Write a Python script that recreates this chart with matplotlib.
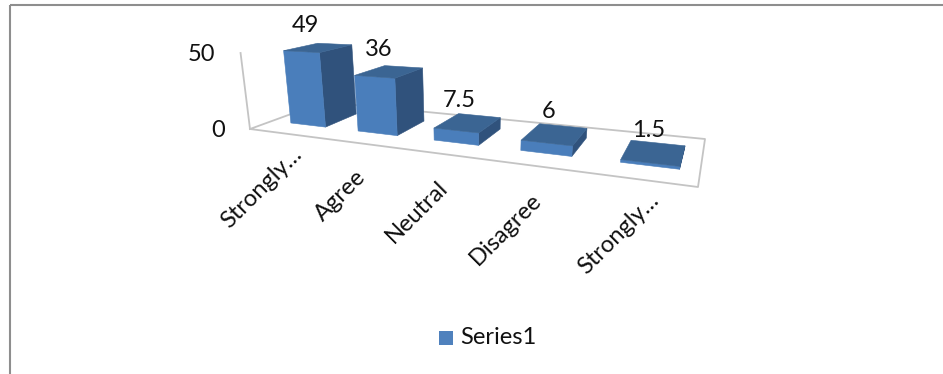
#!/usr/bin/env python3
"""Perspective column chart of survey responses, drawn as projected polygons."""
import matplotlib
matplotlib.use("Agg")
import matplotlib.pyplot as plt
import numpy as np
from matplotlib.patches import Polygon, Rectangle

categories = ["Strongly…", "Agree", "Neutral", "Disagree", "Strongly…"]
values = [49, 36, 7.5, 6, 1.5]
value_labels = ["49", "36", "7.5", "6", "1.5"]
y_ticks = [0, 50]
series_name = "Series1"

W, H = 943, 374
FRONT = "#4a7ebb"
SIDE = "#30527c"
TOP = "#3b6593"
GRID = "#c4c4c4"
FRAME = "#8e8e8e"
FONT = "Lato"
FS = 17


def floor_matrix(pts):
    # homography from the unit floor square to canvas pixels
    (x0, y0), (x1, y1), (x2, y2), (x3, y3) = pts
    a = np.array([[x1 - x2, x3 - x2], [y1 - y2, y3 - y2]], float)
    b = np.array([x0 - x1 + x2 - x3, y0 - y1 + y2 - y3], float)
    g, h = np.linalg.solve(a, b)
    return np.array([
        [x1 - x0 + g * x1, x3 - x0 + h * x3, x0],
        [y1 - y0 + g * y1, y3 - y0 + h * y3, y0],
        [g, h, 1.0],
    ])


M = floor_matrix([(250, 129), (698, 187), (705, 139), (324, 102)])

# vertical direction converges on a point far below the floor
vp = np.array([470.0, 1900.0, 1.0])
# scale chosen so z=50 lands at the top of the value axis
lam = (53 - 129) / (50 * (vp[1] - 53))
cam = np.column_stack([M[:, 0], M[:, 1], lam * vp, M[:, 2]])


def project(u, w, z=0.0):
    p = cam @ np.array([u, w, z, 1.0])
    return p[0] / p[2], p[1] / p[2]


fig = plt.figure(figsize=(W / 100, H / 100), dpi=100)
ax = fig.add_axes([0, 0, 1, 1])
ax.set_xlim(0, W)
ax.set_ylim(H, 0)
ax.axis("off")

# outer frame: top and left edges only
ax.plot([10, W], [5, 5], color=FRAME, lw=1.5, solid_capstyle="butt")
ax.plot([10, 10], [5, H], color=FRAME, lw=1.5, solid_capstyle="butt")

# floor outline and value axis
corners = [(0, 0), (1, 0), (1, 1), (0, 1), (0, 0)]
floor = [project(u, w) for u, w in corners]
ax.plot(*zip(*floor), color=GRID, lw=1.3)
ax.plot(*zip(project(0, 0), project(0, 0, max(y_ticks))), color=GRID, lw=1.3)

for tick in y_ticks:
    x, y = project(0, 0, tick)
    ax.text(x - 25, y + 1, str(tick), ha="right", va="center", fontsize=FS,
            family=FONT, color="#111111")

n = len(categories)
bar_w = 0.53
w0, w1 = 0.27, 0.72
for i, (val, lab, cat) in enumerate(zip(values, value_labels, categories)):
    c = (i + 0.5) / n + 0.012
    u0 = c - bar_w / n / 2
    u1 = c + bar_w / n / 2
    faces = [
        (SIDE, [(u1, w0, 0), (u1, w1, 0), (u1, w1, val), (u1, w0, val)]),
        (FRONT, [(u0, w0, 0), (u1, w0, 0), (u1, w0, val), (u0, w0, val)]),
        (TOP, [(u0, w0, val), (u1, w0, val), (u1, w1, val), (u0, w1, val)]),
    ]
    for color, verts in faces:
        ax.add_patch(Polygon([project(*v) for v in verts], closed=True,
                             facecolor=color, edgecolor=color, lw=0.4, zorder=3 + i))

    tx, ty = project(c, 0.5, val)
    ax.text(tx - 13 + 2 * i, ty - 22, lab, ha="center", va="center", fontsize=FS,
            family=FONT, color="#111111", zorder=20)

    # truncated labels sit closer to the axis than the full words
    lx, ly = project(c, 0)
    dx, dy = (12, 17) if cat.endswith("…") else (4, 31)
    ax.text(lx + dx, ly + dy, cat, rotation=45, rotation_mode="anchor", ha="right",
            va="center", fontsize=FS, family=FONT, color="#111111")

# legend
ax.add_patch(Rectangle((439, 331), 14, 14, facecolor="#4f81bd", edgecolor="none"))
ax.text(460, 337, series_name, ha="left", va="center", fontsize=FS, family=FONT,
        color="#111111")

fig.savefig("out.png", dpi=100)
